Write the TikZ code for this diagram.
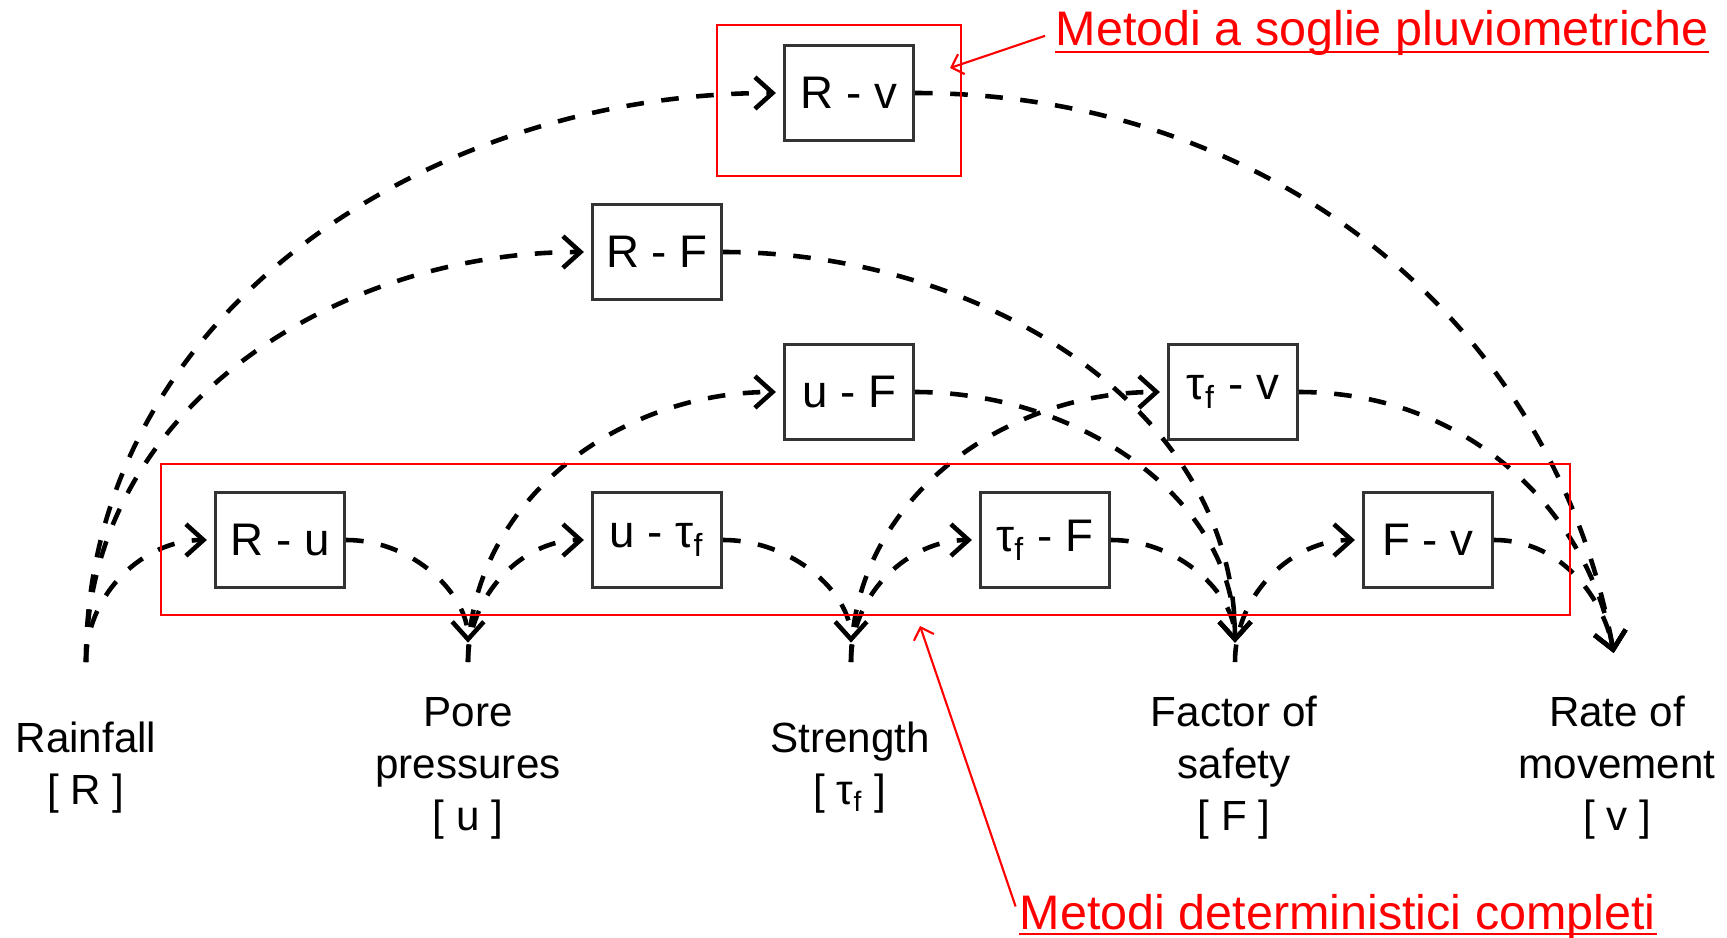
\documentclass[tikz,border=0pt]{standalone}
\usepackage{fontspec}
\setmainfont{Liberation Sans}
\usetikzlibrary{arrows.meta}

\begin{document}
\begin{tikzpicture}[>={Straight Barb[length=5pt,width=9pt]},
  box/.style={draw=black!80, line width=0.9pt, fill=white, minimum width=1.29cm, minimum height=0.95cm, inner sep=0pt, font=\fontsize{13}{15}\selectfont},
  lbl/.style={align=center, font=\fontsize{12}{14.8}\selectfont},
  flow/.style={->, line width=1.3pt, dash pattern=on 5pt off 5pt},
  inflow/.style={flow, shorten >=2pt},
  outflow/.style={flow, shorten >=5.5pt},
  note/.style={red, inner sep=0pt, font=\fontsize{13.8}{16}\selectfont},
  redline/.style={red, line width=0.6pt},
  pointer/.style={redline, -{Straight Barb[length=3pt,width=6pt]}, shorten <=3pt}]
  \useasboundingbox (0,0) rectangle (17.27,9.37);
  \coordinate (R) at (0.86,2.75);
  \coordinate (u) at (4.68,2.75);
  \coordinate (tf) at (8.51,2.75);
  \coordinate (F) at (12.35,2.75);
  \coordinate (v) at (16.17,2.65);
  \node[lbl] (rainlbl) at (0.86,1.69) {Rainfall\\{}[ R ]};
  \node[lbl] (porelbl) at (4.68,1.69) {Pore\\pressures\\{}[ u ]};
  \node[lbl] (strlbl) at (8.50,1.69) {Strength\\{}[ τ\textsubscript{f} ]};
  \node[lbl] (foslbl) at (12.34,1.69) {Factor of\\safety\\{}[ F ]};
  \node[lbl] (ratelbl) at (16.17,1.69) {Rate of\\movement\\{}[ v ]};
  \node[box] (Rv) at (8.49,8.44) {R - v};
  \node[box] (RF) at (6.57,6.85) {R - F};
  \node[box] (uF) at (8.49,5.45) {u - F};
  \node[box] (tv) at (12.33,5.45) {τ\textsubscript{f} - v};
  \node[box] (Ru) at (2.80,3.97) {R - u};
  \node[box] (ut) at (6.57,3.97) {u - τ\textsubscript{f}};
  \node[box] (tF) at (10.45,3.97) {τ\textsubscript{f} - F};
  \node[box] (Fv) at (14.28,3.97) {F - v};
  \draw[inflow] (R) to[out=90,in=180] (Rv.west);
  \draw[outflow] (Rv.east) to[out=0,in=100] (v);
  \draw[inflow] (R) to[out=90,in=180] (RF.west);
  \draw[outflow] (RF.east) to[out=0,in=90] (F);
  \draw[inflow] (R) to[out=90,in=180] (Ru.west);
  \draw[outflow] (Ru.east) to[out=0,in=90] (u);
  \draw[inflow] (u) to[out=90,in=180] (ut.west);
  \draw[outflow] (ut.east) to[out=0,in=90] (tf);
  \draw[inflow] (u) to[out=90,in=180] (uF.west);
  \draw[outflow] (uF.east) to[out=0,in=90] (F);
  \draw[inflow] (tf) to[out=90,in=180] (tF.west);
  \draw[outflow] (tF.east) to[out=0,in=90] (F);
  \draw[inflow] (tf) to[out=90,in=180] (tv.west);
  \draw[outflow] (tv.east) to[out=0,in=100] (v);
  \draw[inflow] (F) to[out=90,in=180] (Fv.west);
  \draw[outflow] (Fv.east) to[out=0,in=100] (v);
  \draw[redline] (7.17,9.12) rectangle (9.61,7.61);
  \draw[redline] (1.61,4.73) rectangle (15.70,3.22);
  \node[note, anchor=base west] (soglie) at (10.55,8.92) {Metodi a soglie pluviometriche};
  \node[note, anchor=base west] (determ) at (10.19,0.08) {Metodi deterministici completi};
  \coordinate (soglietip) at (9.50,8.69);
  \coordinate (determtip) at (9.20,3.11);
  \draw[pointer] (soglie.west) -- (soglietip);
  \draw[pointer] (determ.west) -- (determtip);
  \draw[redline] ([yshift=-2pt]soglie.base west) -- ([yshift=-2pt]soglie.base east);
  \draw[redline] ([yshift=-1.4pt]determ.base west) -- ([yshift=-1.4pt]determ.base east);
\end{tikzpicture}
\end{document}
